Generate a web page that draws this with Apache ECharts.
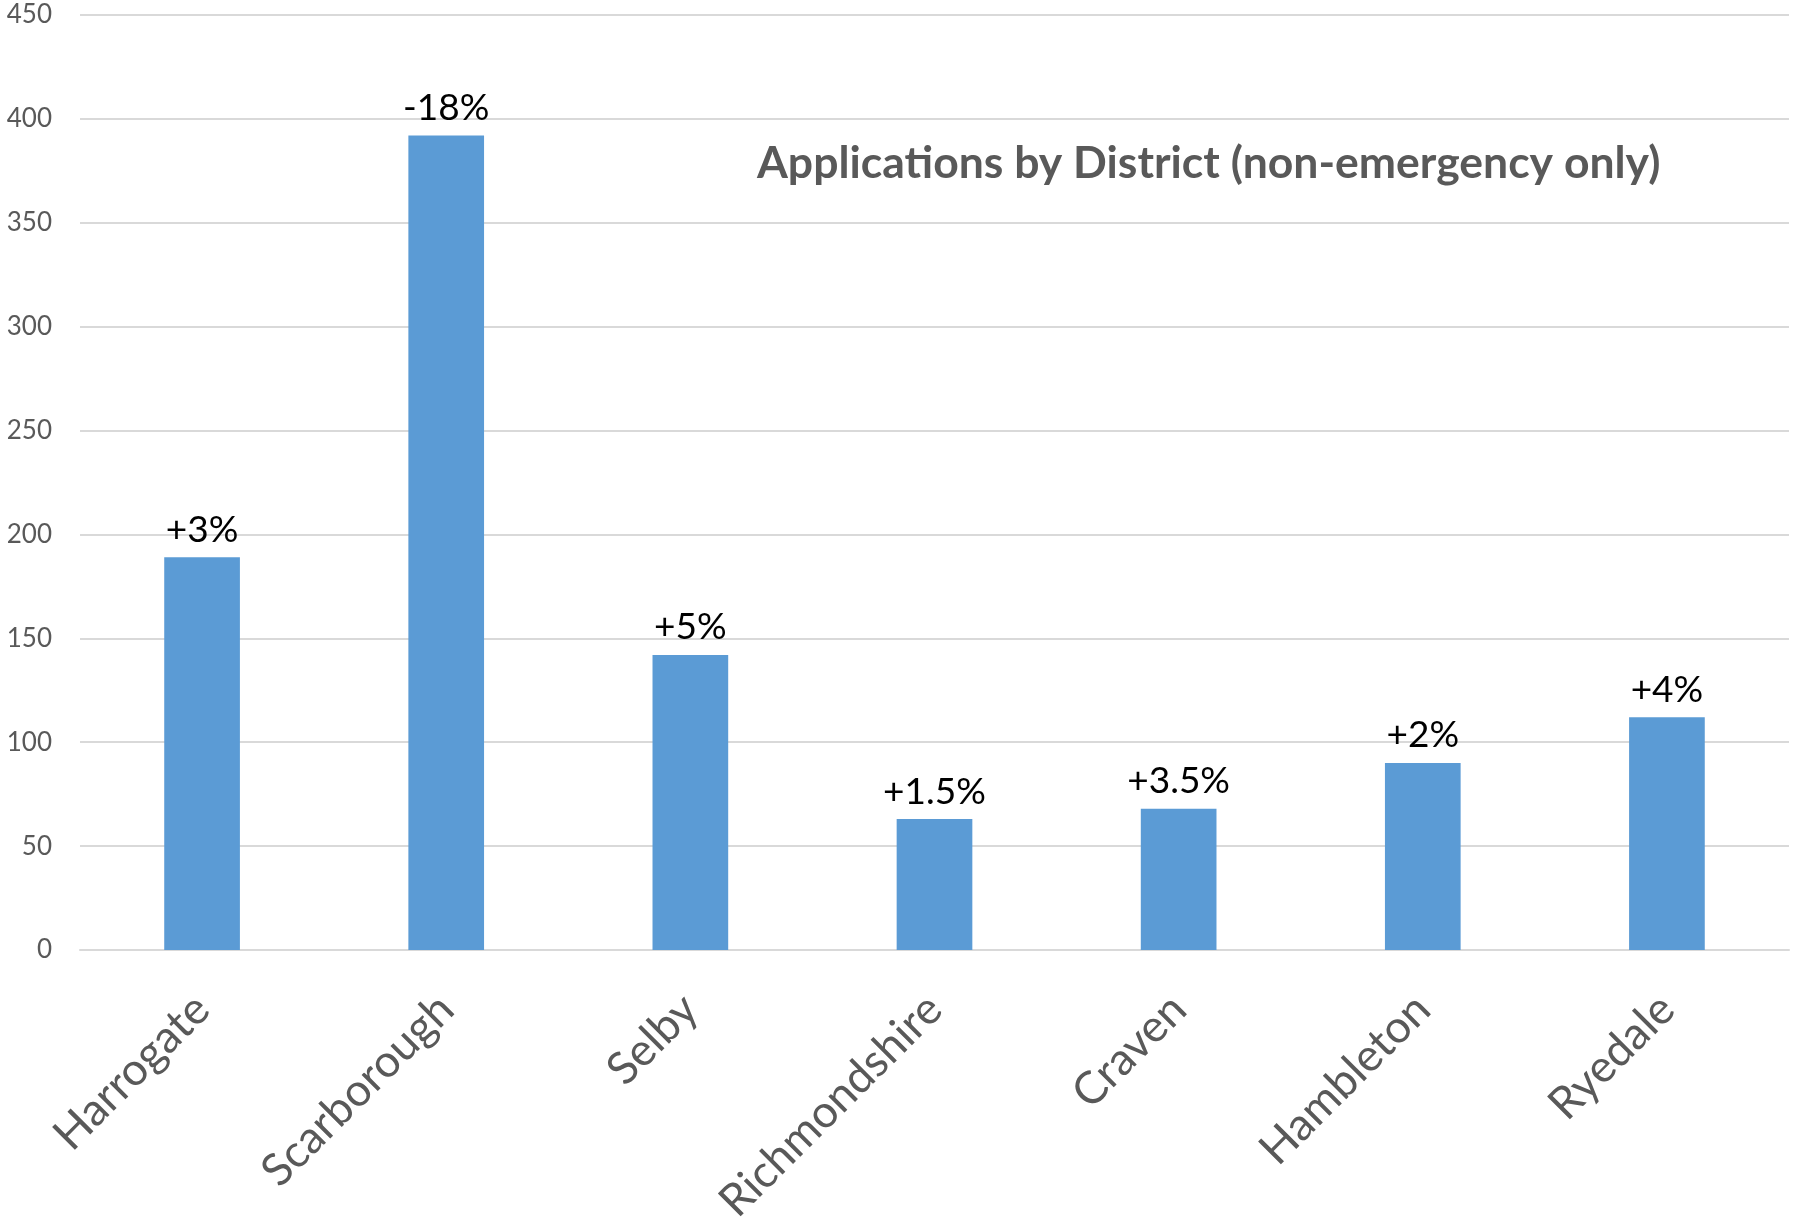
<!DOCTYPE html>
<html>
<head>
<meta charset="utf-8">
<script src="https://cdn.jsdelivr.net/npm/echarts@6/dist/echarts.min.js"></script>
<style>html,body{margin:0;padding:0;background:#fff}#c{width:1806px;height:1219px}</style>
</head>
<body>
<div id="c"></div>
<script>
const categories = ['Harrogate', 'Scarborough', 'Selby', 'Richmondshire', 'Craven', 'Hambleton', 'Ryedale'];
const applications = [189, 392, 142, 63, 68, 90, 112];
const changeLabels = ['+3%', '-18%', '+5%', '+1.5%', '+3.5%', '+2%', '+4%'];
const titleText = 'Applications by District (non-emergency only)';

const chart = echarts.init(document.getElementById('c'));
chart.setOption({
  animation: false,
  backgroundColor: '#ffffff',
  title: {
    text: titleText,
    left: 752,
    top: 136,
    textStyle: { fontFamily: 'Lato', fontWeight: 'bold', fontSize: 44.5, color: '#595959' }
  },
  grid: { left: 80, right: 17, top: 15, bottom: 269, containLabel: false, outerBoundsMode: 'none' },
  xAxis: {
    type: 'category',
    data: categories,
    axisLine: { show: true, lineStyle: { color: '#d9d9d9', width: 2 } },
    axisTick: { show: false },
    axisLabel: {
      rotate: 45,
      margin: 52,
      interval: 0,
      fontFamily: 'Lato',
      fontSize: 45,
      color: '#595959'
    }
  },
  yAxis: {
    type: 'value',
    min: 0,
    max: 450,
    interval: 50,
    axisLine: { show: false },
    axisTick: { show: false },
    splitLine: { lineStyle: { color: '#d9d9d9', width: 2 } },
    axisLabel: { margin: 28, fontFamily: 'Lato', fontSize: 26, color: '#595959' }
  },
  series: [{
    type: 'bar',
    data: applications,
    barWidth: '31%',
    itemStyle: { color: '#5b9bd5' },
    label: {
      show: true,
      position: 'top',
      distance: 9,
      fontFamily: 'Lato',
      fontSize: 37,
      color: '#000000',
      formatter: p => changeLabels[p.dataIndex]
    }
  }]
});
</script>
</body>
</html>
